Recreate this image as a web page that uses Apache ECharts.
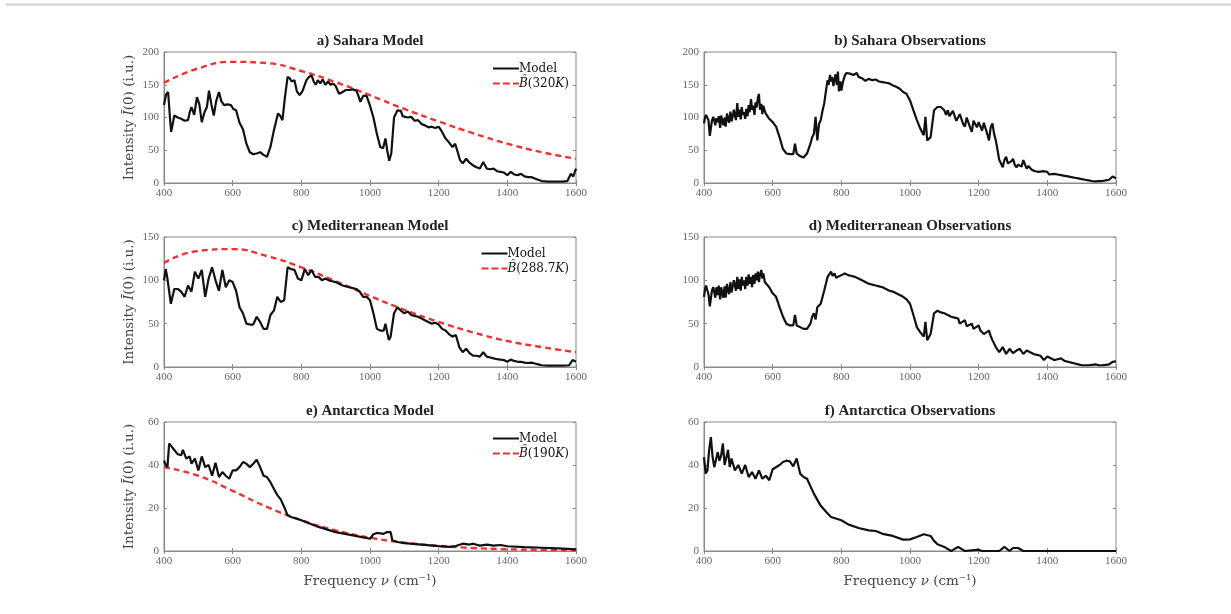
<!DOCTYPE html>
<html><head><meta charset="utf-8">
<script src="https://cdn.jsdelivr.net/npm/echarts@6/dist/echarts.min.js"></script>
<style>html,body{margin:0;padding:0;background:#fff}#c{width:1231px;height:614px}</style>
</head><body><div id="c"></div>
<script>
// ---- data: [wavenumber (cm^-1), intensity (i.u.)] ----
const saharaModel = [[400,119],[406,135],[412,139],[418,95],[421,78],[430,103],[440,100],[450,98],[460,95],[470,96],[475,108],[480,116],[488,104],[496,131],[503,120],[510,93],[518,108],[525,116],[531,141],[538,120],[545,103],[552,125],[560,139],[567,125],[575,119],[585,120],[595,119],[602,113],[610,111],[620,92],[630,82],[640,60],[650,47],[660,44],[670,45],[680,47],[690,43],[700,40],[710,55],[720,80],[725,82],[732,106],[738,103],[745,96],[752,130],[760,162],[766,160],[772,155],[780,157],[787,140],[795,134],[803,140],[815,157],[822,162],[830,164],[836,155],[842,150],[848,157],[855,152],[862,158],[870,150],[878,155],[885,150],[892,152],[900,148],[910,136],[920,139],[930,142],[940,142],[950,143],[960,141],[965,135],[972,124],[980,133],[990,133],[1000,118],[1010,100],[1020,75],[1030,55],[1038,53],[1045,68],[1050,50],[1056,34],[1062,45],[1070,100],[1080,111],[1090,110],[1095,102],[1100,105],[1110,100],[1120,101],[1130,95],[1140,96],[1150,90],[1160,88],[1170,85],[1180,86],[1190,84],[1200,86],[1210,78],[1220,68],[1230,62],[1240,55],[1248,60],[1255,48],[1262,35],[1270,30],[1280,37],[1290,31],[1300,27],[1310,24],[1320,22],[1330,32],[1340,22],[1350,21],[1360,22],[1370,18],[1380,17],[1390,16],[1400,12],[1410,17],[1420,13],[1430,12],[1440,14],[1450,10],[1460,9],[1470,9],[1480,7],[1490,5],[1500,3],[1520,2],[1540,2],[1560,2],[1575,3],[1585,14],[1592,10],[1600,22]];
const saharaObs = [[400,91],[403,100],[406,104],[410,103],[413,96],[417,72],[420,75],[423,95],[427,101],[430,98],[433,88],[436,99],[440,93],[443,102],[447,84],[450,103],[453,96],[456,88],[460,100],[463,86],[467,106],[470,98],[473,92],[477,109],[480,94],[483,100],[487,112],[490,103],[493,96],[497,122],[500,101],[503,112],[507,97],[510,116],[513,104],[517,108],[520,98],[523,113],[527,102],[530,119],[533,108],[537,128],[540,112],[543,118],[547,104],[550,123],[553,115],[557,130],[560,136],[563,112],[567,121],[570,105],[573,118],[577,110],[580,106],[590,98],[600,93],[610,86],[620,70],[630,52],[640,45],[650,44],[660,44],[665,60],[670,45],[680,41],[690,39],[700,45],[710,60],[715,70],[720,75],[725,101],[730,65],[735,90],[740,96],[745,110],[750,121],[755,140],[760,157],[763,150],[767,165],[770,155],[773,162],[777,148],[780,158],[783,166],[787,150],[790,170],[793,140],[797,155],[800,141],[805,155],[810,164],[815,168],[820,170],[825,167],[830,170],[835,165],[840,164],[845,168],[850,162],[855,165],[860,160],[865,163],[870,156],[880,159],[890,157],[900,158],[910,155],[920,154],[930,153],[940,152],[950,149],[960,147],[970,144],[980,139],[990,136],[1000,126],[1010,111],[1020,96],[1030,83],[1040,73],[1045,101],[1050,65],[1060,70],[1070,111],[1080,116],[1090,116],[1100,111],[1105,104],[1110,111],[1115,102],[1120,101],[1125,110],[1130,108],[1135,95],[1140,93],[1145,105],[1150,103],[1155,90],[1160,86],[1165,100],[1170,101],[1175,85],[1180,78],[1185,95],[1190,98],[1195,85],[1200,93],[1205,96],[1210,80],[1215,92],[1220,91],[1225,75],[1230,65],[1235,85],[1240,91],[1245,75],[1250,65],[1255,50],[1260,35],[1265,30],[1270,24],[1275,35],[1280,40],[1285,30],[1290,27],[1295,33],[1300,37],[1305,28],[1310,24],[1315,28],[1320,30],[1325,25],[1330,35],[1335,28],[1340,22],[1345,26],[1350,27],[1355,20],[1360,22],[1365,18],[1370,21],[1375,17],[1380,19],[1390,18],[1400,17],[1405,13],[1410,15],[1420,14],[1425,11],[1430,13],[1440,12],[1450,11],[1460,10],[1465,7],[1470,9],[1480,8],[1490,7],[1500,6],[1510,5],[1520,4],[1530,3],[1540,2.5],[1550,3],[1560,3],[1570,4],[1580,5],[1590,10],[1600,7]];
const medModel = [[400,100],[405,113],[410,102],[420,73],[430,90],[440,90],[450,87],[460,81],[470,94],[480,87],[490,110],[500,102],[510,112],[520,81],[530,102],[540,115],[550,100],[560,88],[570,112],[580,92],[590,100],[600,98],[610,88],[620,69],[630,62],[640,50],[650,49],[660,49],[670,58],[680,52],[690,44],[700,44],[710,60],[720,65],[730,81],[740,75],[750,77],[760,115],[770,113],[780,112],[790,102],[800,100],[810,113],[820,106],[830,112],[840,104],[850,104],[860,100],[870,102],[880,100],[890,99],[900,98],[910,96],[920,94],[930,93],[940,92],[950,91],[960,90],[970,87],[980,81],[990,81],[1000,77],[1010,62],[1020,44],[1030,42],[1040,42],[1045,50],[1050,40],[1055,31],[1060,35],[1070,62],[1080,69],[1090,65],[1100,62],[1110,64],[1120,60],[1130,59],[1140,58],[1150,56],[1160,54],[1170,52],[1180,50],[1190,51],[1200,49],[1210,44],[1220,42],[1230,38],[1240,35],[1250,37],[1260,23],[1270,17],[1280,21],[1290,16],[1300,13],[1310,13],[1320,12],[1330,17],[1340,12],[1350,11],[1360,10],[1370,9],[1380,8.5],[1390,8],[1400,6],[1410,8.5],[1420,7],[1430,6],[1440,6],[1450,5],[1460,4.6],[1470,5],[1480,4],[1490,3],[1500,2],[1520,1.5],[1540,1.5],[1560,1.5],[1580,2],[1590,8],[1600,6]];
const medObs = [[400,81],[403,90],[406,94],[410,92],[413,84],[417,70],[420,72],[423,88],[427,92],[430,86],[433,80],[436,92],[440,83],[443,94],[447,78],[450,92],[453,86],[456,80],[460,93],[463,80],[467,96],[470,88],[473,84],[477,98],[480,86],[483,92],[487,100],[490,94],[493,88],[497,104],[500,90],[503,101],[507,88],[510,104],[513,94],[517,100],[520,90],[523,104],[527,94],[530,107],[533,96],[537,104],[540,92],[543,106],[547,96],[550,108],[553,100],[557,110],[560,98],[563,106],[567,112],[570,102],[573,108],[577,98],[580,100],[590,92],[600,85],[610,81],[620,69],[630,58],[640,50],[650,48],[660,48],[665,60],[670,48],[680,46],[690,44],[700,44],[710,50],[715,58],[720,62],[725,55],[730,69],[740,73],[750,88],[760,104],[770,110],[775,105],[780,108],[785,103],[790,104],[800,106],[810,108],[820,106],[830,105],[840,104],[850,102],[860,100],[870,98],[880,96],[890,95],[900,94],[910,93],[920,92],[930,90],[940,88],[950,87],[960,85],[970,83],[980,81],[990,78],[1000,73],[1010,60],[1020,46],[1030,40],[1040,35],[1045,52],[1050,31],[1060,38],[1070,62],[1080,65],[1090,63],[1100,62],[1110,60],[1120,58],[1130,57],[1140,56],[1145,50],[1150,52],[1160,54],[1165,47],[1170,48],[1180,50],[1185,44],[1190,44],[1200,48],[1205,42],[1210,44],[1215,38],[1220,40],[1230,42],[1235,36],[1240,31],[1250,23],[1260,17],[1270,23],[1280,15],[1290,21],[1300,16],[1310,19],[1320,21],[1330,15],[1340,19],[1350,17],[1360,15],[1370,14],[1380,13],[1390,8],[1400,12],[1410,10],[1420,8],[1430,9],[1440,10],[1450,7],[1460,6],[1470,5],[1480,4],[1490,3],[1500,2],[1510,2],[1520,2],[1530,2.5],[1540,3],[1550,2],[1560,2],[1570,2.5],[1580,3],[1590,6],[1600,6.5]];
const antModel = [[400,42],[405,40],[410,39],[415,50],[420,49],[430,47],[440,45],[450,44.5],[455,47],[465,43],[475,44],[480,40.6],[490,43],[500,37.5],[510,44],[520,39],[530,40],[540,35],[550,41],[560,34.4],[570,36.7],[580,35],[590,33.6],[600,37.5],[610,37.5],[620,39],[630,41.4],[640,40.6],[650,39],[660,40.6],[670,42.5],[680,39],[690,35],[700,34.4],[710,32],[720,29],[730,26],[740,24],[750,20.5],[760,16.6],[770,15.8],[800,14.3],[850,11.2],[900,8.8],[950,7.3],[1000,5.7],[1010,7.8],[1020,8.4],[1040,8],[1050,8.8],[1055,9.6],[1060,8.8],[1065,5],[1080,4.2],[1100,3.7],[1150,3],[1200,2.3],[1230,1.9],[1250,2.3],[1270,3.4],[1290,3],[1300,3.4],[1320,2.5],[1340,3],[1360,2.5],[1380,2.8],[1400,2.2],[1450,1.8],[1500,1.5],[1550,1.2],[1600,0.8]];
const antObs = [[400,43.7],[405,36],[410,37.5],[415,47],[420,53],[425,43.7],[430,39],[440,46],[445,42],[450,44.5],[455,50],[460,40],[470,47],[475,39],[480,43],[490,37.5],[500,40],[510,36],[520,40],[530,34.4],[540,36.7],[550,33.6],[560,37.5],[570,33.6],[580,35],[590,32.9],[600,38],[620,40],[630,41.4],[640,42],[650,41.7],[660,39.4],[670,43],[680,36],[690,34.4],[700,33.6],[720,26.7],[740,21],[760,17.4],[770,15.8],[800,14.3],[820,12.4],[850,10.7],[880,9.6],[900,9.3],[920,8],[950,7],[980,5.3],[1000,5.4],[1020,6.5],[1040,7.8],[1060,7],[1070,4.7],[1080,3.1],[1100,1.9],[1120,0],[1140,1.9],[1160,0],[1200,0.6],[1210,0],[1260,0],[1275,1.9],[1290,0],[1300,1.4],[1315,1.4],[1330,0],[1600,0]];
const planck320 = [[400,153],[500,175],[600,185],[700,183],[800,171],[900,154],[1000,134],[1100,113],[1200,94],[1300,76],[1400,60],[1500,47],[1600,37]];
const planck288 = [[400,120],[500,134],[600,136],[700,128],[800,115],[900,99],[1000,82],[1100,66],[1200,52],[1300,40],[1400,30],[1500,23],[1600,17]];
const planck190 = [[400,39],[500,35],[600,28],[700,20.5],[800,14.4],[900,9.6],[1000,6.2],[1100,3.9],[1200,2.4],[1300,1.4],[1400,0.8],[1500,0.5],[1600,0.3]];
const titles = ['a) Sahara Model','b) Sahara Observations','c) Mediterranean Model','d) Mediterranean Observations','e) Antarctica Model','f) Antarctica Observations'];
const planckLabels = ['320', '288.7', '190'];
const yMax = [200,200,150,150,60,60];
const yStep = [50,50,50,50,20,20];
const xTicks = {min:400, max:1600, interval:200};

// ---- layout ----
const FONT = '"Liberation Serif", "DejaVu Serif", serif';
const WIDE = '"DejaVu Serif", "Liberation Serif", serif';
const colLeft = [164, 704], colWidth = 412;
const rowTop = [52, 237, 422], rowH = [131, 130, 129];
const chart = echarts.init(document.getElementById('c'));
const grids = [], xAxes = [], yAxes = [], series = [], titleObjs = [], legends = [];
for (let i = 0; i < 6; i++) {
  const r = Math.floor(i / 2), c = i % 2;
  grids.push({left: colLeft[c], top: rowTop[r], width: colWidth, height: rowH[r], show: true, borderColor: '#8a8a8a', borderWidth: 1, backgroundColor: '#fff'});
  titleObjs.push({text: titles[i], left: colLeft[c] + colWidth / 2, top: rowTop[r] - 18, textAlign: 'center', padding: 0,
    textStyle: {fontFamily: FONT, fontSize: 15, fontWeight: 'bold', color: '#222'}});
}
const axisLbl = {fontFamily: FONT, fontSize: 11, color: '#666', margin: 5, formatter: function (v) { return String(v); }};
const nameStyle = {fontFamily: WIDE, fontSize: 13.5, color: '#444', rich: {i: {fontFamily: WIDE, fontSize: 13.5, fontStyle: 'italic', color: '#444'}}};
for (let i = 0; i < 6; i++) {
  const r = Math.floor(i / 2), c = i % 2;
  xAxes.push(Object.assign({type: 'value', gridIndex: i, position: 'bottom',
    axisLine: {show: true, lineStyle: {color: '#8a8a8a'}},
    axisTick: {show: true, inside: true, length: 3, lineStyle: {color: '#8a8a8a'}},
    axisLabel: axisLbl, splitLine: {show: false},
    name: r === 2 ? 'Frequency {i|ν} (cm⁻¹)' : '', nameLocation: 'middle', nameGap: 23,
    nameTextStyle: nameStyle
  }, xTicks));
  yAxes.push({type: 'value', gridIndex: i, position: 'left', min: 0, max: yMax[i], interval: yStep[i],
    axisLine: {show: true, lineStyle: {color: '#8a8a8a'}},
    axisTick: {show: true, inside: true, length: 3, lineStyle: {color: '#8a8a8a'}},
    axisLabel: axisLbl, splitLine: {show: false},
    name: c === 0 ? 'Intensity {i|Ī}(0) (i.u.)' : '', nameLocation: 'middle', nameGap: 28,
    nameTextStyle: nameStyle
  });
}
for (let i = 0; i < 6; i++) {
  xAxes.push(Object.assign({type: 'value', gridIndex: i, position: 'top',
    axisLine: {show: false}, axisLabel: {show: false}, splitLine: {show: false},
    axisTick: {show: true, inside: true, length: 3, lineStyle: {color: '#8a8a8a'}}}, xTicks));
  yAxes.push({type: 'value', gridIndex: i, position: 'right', min: 0, max: yMax[i], interval: yStep[i],
    axisLine: {show: false}, axisLabel: {show: false}, splitLine: {show: false},
    axisTick: {show: true, inside: true, length: 3, lineStyle: {color: '#8a8a8a'}}});
}
const blackLine = {color: '#111', width: 2.2};
const redLine = {color: '#ee3333', width: 2.4, type: [6, 4]};
function addLine(name, data, idx, style, smooth, z) {
  series.push({type: 'line', name: name, data: data, xAxisIndex: idx, yAxisIndex: idx, showSymbol: false, symbol: 'none',
    smooth: smooth, lineStyle: style, itemStyle: {color: style.color}, z: z, animation: false, silent: true});
}
const models = [saharaModel, medModel, antModel];
const obs = [saharaObs, medObs, antObs];
const planck = [planck320, planck288, planck190];
const bbNames = ['B320', 'B288', 'B190'];
const dashIcon = 'path://M0,0h7v2h-7zM10,0h7v2h-7zM20,0h6v2h-6z';
for (let r = 0; r < 3; r++) {
  addLine('Model', models[r], r * 2, blackLine, false, 3);
  addLine(bbNames[r], planck[r], r * 2, redLine, true, 2);
  addLine('Obs' + r, obs[r], r * 2 + 1, blackLine, false, 3);
  const lbl = planckLabels[r];
  legends.push({
    data: [{name: 'Model', icon: 'rect', itemStyle: {color: '#111'}},
           {name: bbNames[r], icon: dashIcon, itemStyle: {color: '#ee3333'}}],
    orient: 'vertical', right: 1231 - 569, top: rowTop[r] + 10,
    itemWidth: 26, itemHeight: 2, itemGap: 2, padding: 0, align: 'left', selectedMode: false, symbolKeepAspect: false,
    formatter: function (n) {
      if (n === 'Model') return 'Model';
      return '{i|B̂}(' + lbl + '{i|K})';
    },
    textStyle: {fontFamily: WIDE, fontSize: 12, lineHeight: 13, color: '#111', padding: [0, 0, 0, -5],
      rich: {i: {fontFamily: WIDE, fontSize: 12, lineHeight: 13, fontStyle: 'italic', color: '#111'}}}
  });
}
chart.setOption({
  animation: false,
  backgroundColor: '#fff',
  title: titleObjs,
  grid: grids, xAxis: xAxes, yAxis: yAxes, series: series, legend: legends,
  graphic: [{type: 'line', shape: {x1: 6, y1: 4.5, x2: 1231, y2: 4.5}, style: {stroke: '#cfcfcf', lineWidth: 2}}]
});
</script></body></html>
